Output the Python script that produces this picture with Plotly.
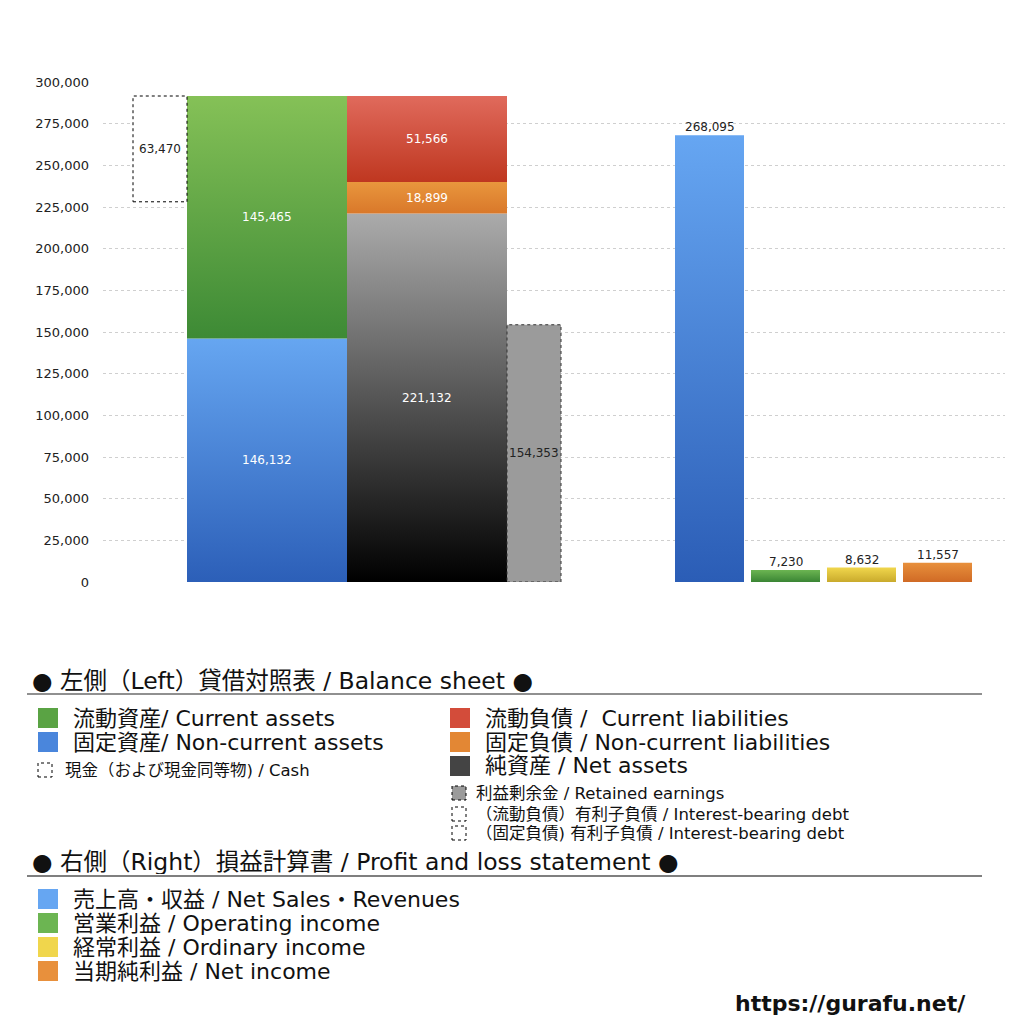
import plotly.graph_objects as go

# 貸借対照表 / Balance sheet
current_assets = 145465
noncurrent_assets = 146132
cash = 63470
current_liabilities = 51566
noncurrent_liabilities = 18899
net_assets = 221132
retained_earnings = 154353

# 損益計算書 / Profit and loss statement
pl_names = ["売上高・収益", "営業利益", "経常利益", "当期純利益"]
pl_values = [268095, 7230, 8632, 11557]

y_ticks = list(range(0, 300001, 25000))

FONT = "DejaVu Sans, Noto Sans CJK JP"

# x layout (axis units = pixels inside the plot)
X0, X1 = 103, 1005
PL_X = [(675, 744), (751, 820), (827, 896), (903, 972)]
PL_COLORS = [("#2b5db6", "#66a6f2"), ("#3a8534", "#6cb552"),
             ("#c9aa2c", "#f0d64c"), ("#d06a25", "#e8903c")]

fig = go.Figure()


def block(x0, x1, y0, y1, bottom, top, name=""):
    fig.add_trace(go.Scatter(
        x=[x0, x1, x1, x0, x0], y=[y0, y0, y1, y1, y0],
        mode="lines", fill="toself", name=name,
        line=dict(width=0, color="rgba(0,0,0,0)"),
        fillcolor=top,
        fillgradient=dict(type="vertical", colorscale=[[0, bottom], [1, top]]),
        hoverinfo="skip", showlegend=False))


def label(x, y, value, color="white", shift=0):
    fig.add_annotation(x=x, y=y, text=f"{value:,}", showarrow=False, yshift=shift,
                       font=dict(family=FONT, size=12, color=color))


# assets stack
total_assets = current_assets + noncurrent_assets
block(187, 347, 0, noncurrent_assets, "#2c5fb8", "#66a6f1", name="固定資産")
block(187, 347, noncurrent_assets, total_assets, "#3d8a35", "#85c157", name="流動資産")
label(267, noncurrent_assets / 2, noncurrent_assets)
label(267, noncurrent_assets + current_assets / 2, current_assets)

# cash (dotted box)
fig.add_trace(go.Scatter(
    x=[133, 187, 187, 133, 133],
    y=[total_assets - cash, total_assets - cash, total_assets, total_assets, total_assets - cash],
    mode="lines", fill="toself", fillcolor="white",
    line=dict(color="black", width=1, dash="dot"),
    hoverinfo="skip", showlegend=False))
label(160, total_assets - cash / 2, cash, color="#222")

# liabilities + net assets stack
block(347, 507, 0, net_assets, "#000000", "#ababab", name="純資産")
block(347, 507, net_assets, net_assets + noncurrent_liabilities, "#d9782a", "#e9963d", name="固定負債")
block(347, 507, net_assets + noncurrent_liabilities,
      net_assets + noncurrent_liabilities + current_liabilities, "#bf3720", "#e06a5c", name="流動負債")
label(427, net_assets / 2, net_assets)
label(427, net_assets + noncurrent_liabilities / 2, noncurrent_liabilities)
label(427, net_assets + noncurrent_liabilities + current_liabilities / 2, current_liabilities)

# retained earnings
fig.add_trace(go.Scatter(
    x=[507, 561, 561, 507, 507], y=[0, 0, retained_earnings, retained_earnings, 0],
    mode="lines", fill="toself", fillcolor="#9b9b9b",
    line=dict(color="#333", width=1, dash="dot"),
    hoverinfo="skip", showlegend=False))
label(534, retained_earnings / 2, retained_earnings, color="#222")

# profit and loss
for (xa, xb), v, (cb, ct), n in zip(PL_X, pl_values, PL_COLORS, pl_names):
    block(xa, xb, 0, v, cb, ct, name=n)
    label((xa + xb) / 2, v, v, color="#222", shift=8)


def px(x):
    return (x - X0) / (X1 - X0)


def py(y):
    return (582 - y) / 500


def text(x, y, s, size, weight="normal"):
    fig.add_annotation(xref="paper", yref="paper", x=px(x), y=py(y), text=s,
                       showarrow=False, xanchor="left", yanchor="middle",
                       height=round(size * 1.05), borderpad=0,
                       font=dict(family=FONT, size=size, color="#111", weight=weight))


def square(x, y, size, color, dotted=False):
    fig.add_shape(type="rect", xref="paper", yref="paper",
                  x0=px(x), x1=px(x + size), y0=py(y + size / 2), y1=py(y - size / 2),
                  fillcolor=color,
                  line=dict(color="black", width=1, dash="dot") if dotted else dict(width=0))


def hline(x0, x1, y, color, width):
    fig.add_shape(type="line", xref="paper", yref="paper",
                  x0=px(x0), x1=px(x1), y0=py(y), y1=py(y),
                  line=dict(color=color, width=width))


BIG, SMALL = 22, 16.5

text(31, 680, "● 左側（Left）貸借対照表 / Balance sheet ●", 23.5)
hline(27, 982, 694, "#222", 1.2)

square(38, 718, 20, "#5aa344")
text(72, 718, "流動資産/ Current assets", BIG)
square(38, 742, 20, "#4a86dc")
text(72, 742, "固定資産/ Non-current assets", BIG)
square(38, 770, 14, "white", dotted=True)
text(64, 770, "現金（および現金同等物) / Cash", SMALL)

square(450, 718, 20, "#d34c3a")
text(484, 718, "流動負債 /  Current liabilities", BIG)
square(450, 742, 20, "#e38734")
text(484, 742, "固定負債 / Non-current liabilities", BIG)
square(450, 766, 20, "#444444")
text(484, 766, "純資産 / Net assets", BIG)
square(452, 793, 14, "#9b9b9b", dotted=True)
text(475, 793, "利益剰余金 / Retained earnings", SMALL)
square(452, 814, 14, "white", dotted=True)
text(475, 814, "（流動負債）有利子負債 / Interest-bearing debt", SMALL)
square(452, 833, 14, "white", dotted=True)
text(475, 833, "（固定負債) 有利子負債 / Interest-bearing debt", SMALL)

text(31, 861, "● 右側（Right）損益計算書 / Profit and loss statement ●", 23.5)
hline(27, 982, 876, "#555", 1.5)

pl_legend = ["売上高・収益 / Net Sales・Revenues", "営業利益 / Operating income",
             "経常利益 / Ordinary income", "当期純利益 / Net income"]
for i, (s, (cb, ct)) in enumerate(zip(pl_legend, PL_COLORS)):
    square(38, 899 + 24 * i, 20, ct)
    text(72, 899 + 24 * i, s, BIG)

text(734, 1003, "https://gurafu.net/", 22, weight="bold")

# the page body adds an 8px margin, so the figure is 1016px and margins are shifted
fig.update_layout(
    width=1016, height=1016,
    margin=dict(l=X0 - 8, r=1016 - (X1 - 8), t=74, b=1016 - 574),
    plot_bgcolor="white", paper_bgcolor="white",
    showlegend=False,
    xaxis=dict(range=[X0, X1], visible=False),
    yaxis=dict(range=[0, 300000], tickvals=y_ticks, tickformat=",",
               showgrid=True, gridcolor="#cfcfcf", griddash="dot", gridwidth=1,
               zeroline=False, ticks="", ticklabelstandoff=13,
               tickfont=dict(family=FONT, size=13, color="#222")),
)

fig.write_html("out.html")
